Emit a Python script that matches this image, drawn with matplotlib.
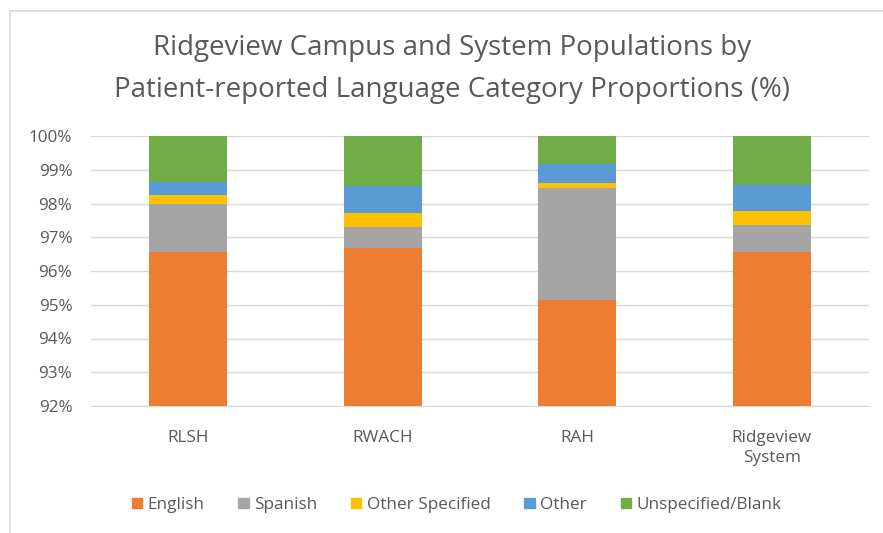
import matplotlib
matplotlib.use("Agg")
import matplotlib.pyplot as plt
from matplotlib.lines import Line2D
import numpy as np

categories = ["RLSH", "RWACH", "RAH", "Ridgeview\nSystem"]
series_names = ["English", "Spanish", "Other Specified", "Other", "Unspecified/Blank"]
english = [96.55, 96.67, 95.14, 96.57]
spanish = [1.45, 0.63, 3.32, 0.80]
other_specified = [0.25, 0.41, 0.14, 0.41]
other = [0.38, 0.82, 0.56, 0.77]
unspecified = [1.37, 1.47, 0.84, 1.45]
yticks = [92, 93, 94, 95, 96, 97, 98, 99, 100]
colors = ["#ED7D31", "#A5A5A5", "#FFC000", "#5B9BD5", "#70AD47"]

plt.rcParams['font.family'] = ['Open Sans', 'DejaVu Sans']
text_color = "#595959"

fig = plt.figure(figsize=(8.83, 5.33), dpi=100)
ax = fig.add_axes([91/883, 1 - 406/533, 778/883, 270/533])

x = np.arange(len(categories))
bottom = np.zeros(len(categories))
for name, vals, c in zip(series_names,
                         [english, spanish, other_specified, other, unspecified],
                         colors):
    ax.bar(x, vals, bottom=bottom, width=0.4, color=c, label=name, zorder=3)
    bottom = bottom + np.array(vals)

ax.set_ylim(92, 100)
ax.set_xlim(-0.5, len(categories) - 0.5)
ax.set_yticks(yticks)
ax.set_yticklabels([f"{t}%" for t in yticks])
ax.set_xticks(x)
ax.set_xticklabels(categories)
ax.grid(axis='y', color="#D9D9D9", linewidth=1, zorder=0)
for s in ["top", "right", "left"]:
    ax.spines[s].set_visible(False)
ax.spines["bottom"].set_color("#D9D9D9")
ax.tick_params(axis='both', length=0, colors=text_color, labelsize=12.3)
ax.tick_params(axis='y', pad=13.5)
ax.tick_params(axis='x', pad=17)
for lbl in ax.get_xticklabels():
    lbl.set_linespacing(1.4)

fig.text(0.512, 1 - 48/533, "Ridgeview Campus and System Populations by",
         ha='center', va='center', fontsize=20, color=text_color)
fig.text(0.512, 1 - 90/533, "Patient-reported Language Category Proportions (%)",
         ha='center', va='center', fontsize=20, color=text_color)

handles = [plt.Rectangle((0, 0), 1, 1, color=c) for c in colors]
fig.legend(handles, series_names, loc='center', bbox_to_anchor=(0.517, 1 - 505/533),
           ncol=5, frameon=False, fontsize=12.3, labelcolor=text_color,
           handlelength=0.6, handleheight=0.6, handletextpad=0.3, columnspacing=2.0)

fig.add_artist(Line2D([9.5/883, 1], [1 - 10.5/533, 1 - 10.5/533], color="#D9D9D9",
                      linewidth=1.2, transform=fig.transFigure))
fig.add_artist(Line2D([9.5/883, 9.5/883], [0, 1 - 10.5/533], color="#D9D9D9",
                      linewidth=1.2, transform=fig.transFigure))

fig.savefig("out.png", dpi=100)
